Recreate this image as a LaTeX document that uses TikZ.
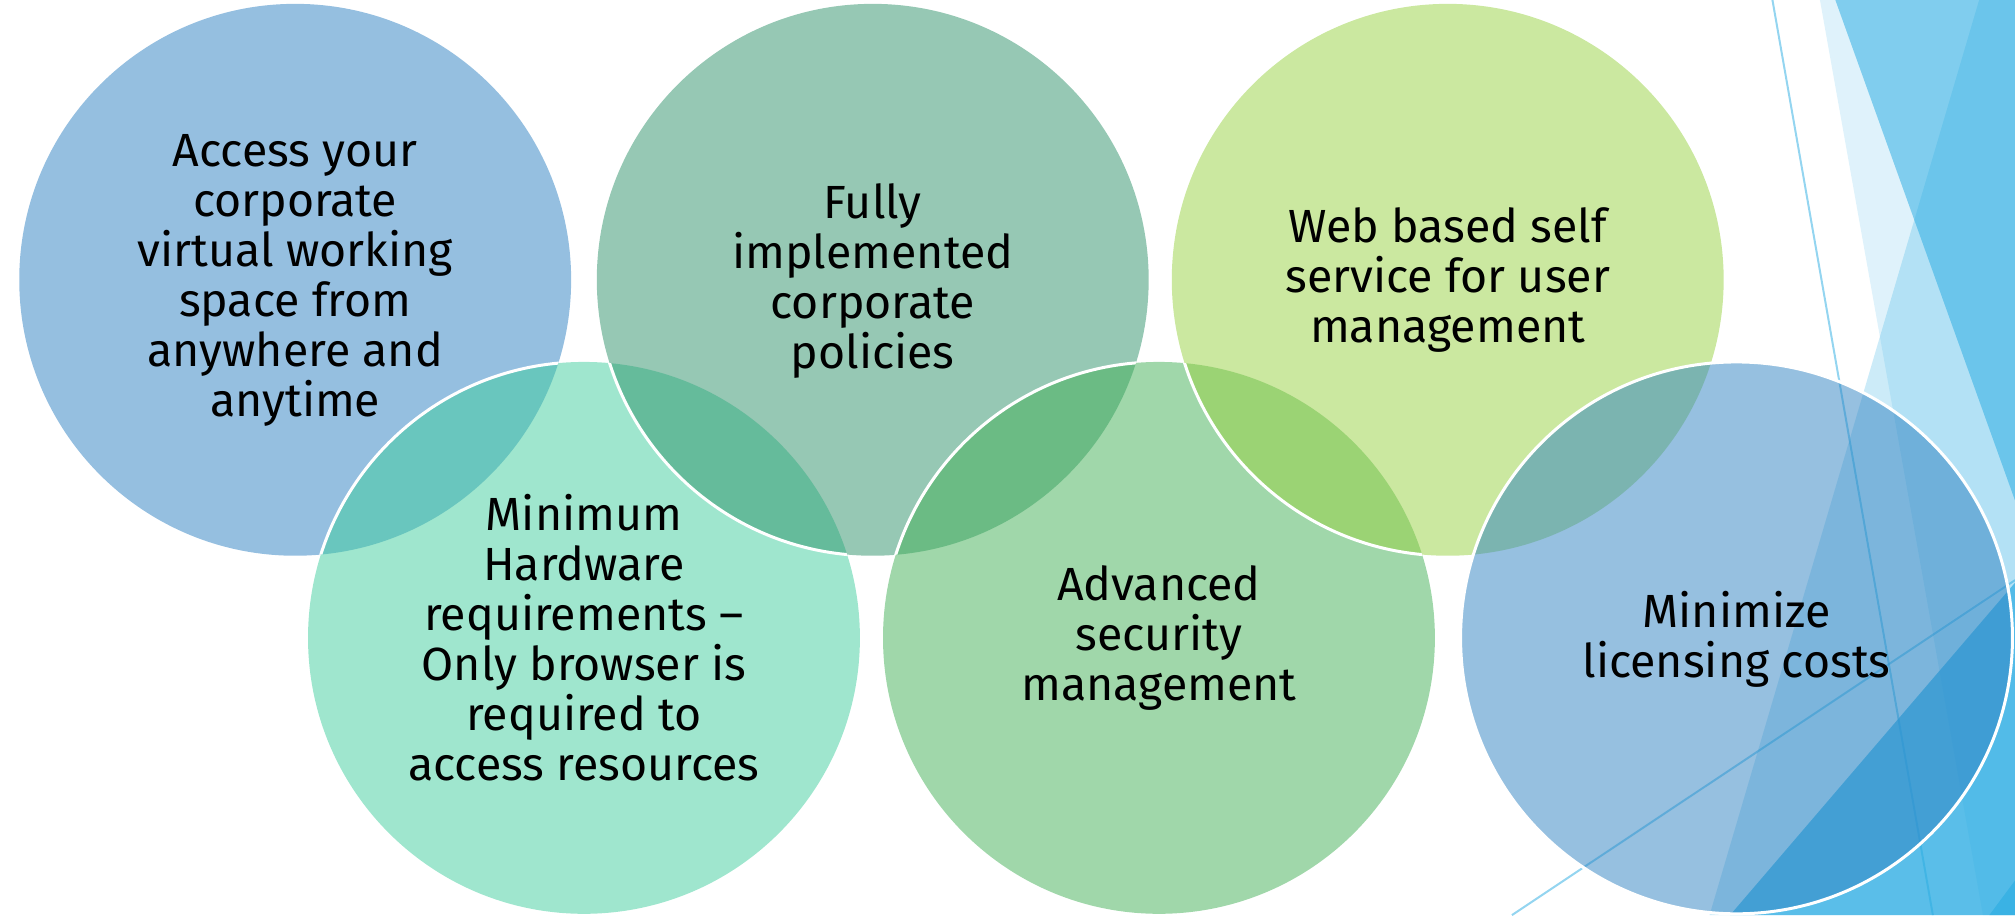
\documentclass[tikz,border=0pt]{standalone}
\usepackage{fontspec}
\setmainfont{Fira Sans}
\definecolor{cA}{HTML}{2B7FC1}
\definecolor{cB}{HTML}{2D9169}
\definecolor{cC}{HTML}{97D141}
\definecolor{cD}{HTML}{3FCD9D}
\definecolor{cE}{HTML}{41AF55}
\definecolor{cF}{HTML}{2D81C1}
\definecolor{facet}{HTML}{29ABE2}
\tikzset{
  bub/.style={fill opacity=0.5},
  rim/.style={draw=white, line width=3pt},
  lbl/.style={align=center, font=\fontsize{46.5}{50}\selectfont, text=black, inner sep=0pt},
  facetline/.style={draw=facet, draw opacity=0.5, line width=2pt}
}
\begin{document}
\begin{tikzpicture}[x=1.2834pt,y=-1.2834pt]
\useasboundingbox (0,0) rectangle (1570,713);
% background facets
\fill[facet, fill opacity=0.15] (1418,0) -- (1570,0) -- (1570,713) -- (1545,713) -- cycle;
\fill[facet, fill opacity=0.52] (1430,0) -- (1570,0) -- (1570,390) -- cycle;
\fill[facet, fill opacity=0.24] (1542,0) -- (1570,0) -- (1570,713) -- (1332,713) -- cycle;
\fill[facet, fill opacity=0.7] (1348,713) -- (1570,454) -- (1570,713) -- cycle;
\fill[facet, fill opacity=0.6] (1550,713) -- (1570,686) -- (1570,713) -- cycle;
\coordinate (l1a) at (1381,0);
\coordinate (l1b) at (1506,713);
\coordinate (l3a) at (1178,713);
\coordinate (l3b) at (1570,452);
\draw[facetline] (l1a) -- (l1b);
\draw[facetline] (l3a) -- (l3b);
% circle centres
\coordinate (c1) at (230,218);
\coordinate (c2) at (680,218);
\coordinate (c3) at (1128,218);
\coordinate (c4) at (455,497);
\coordinate (c5) at (903,497);
\coordinate (c6) at (1353,497);
% circles in stacking order 1,4,2,5,3,6
\fill[cA, bub] (c1) circle (215);
\fill[cD, bub] (c4) circle (215);
\begin{scope}\clip (c1) circle (215); \draw[rim] (c4) circle (215);\end{scope}
\fill[cB, bub] (c2) circle (215);
\begin{scope}\clip (c4) circle (215); \draw[rim] (c2) circle (215);\end{scope}
\fill[cE, bub] (c5) circle (215);
\begin{scope}\clip (c2) circle (215); \draw[rim] (c5) circle (215);\end{scope}
\fill[cC, bub] (c3) circle (215);
\begin{scope}\clip (c5) circle (215); \draw[rim] (c3) circle (215);\end{scope}
\fill[cF, bub] (c6) circle (215);
\draw[rim] (c6) circle (215);
% labels
\node[lbl] (t1) at ([yshift=-1]c1) {Access your\\corporate\\virtual working\\space from\\anywhere and\\anytime};
\node[lbl] (t2) at ([yshift=-1]c2) {Fully\\implemented\\corporate\\policies};
\node[lbl] (t3) at (c3) {Web based self\\service for user\\management};
\node[lbl] (t4) at (c4) {Minimum\\Hardware\\requirements –\\Only browser is\\required to\\access resources};
\node[lbl] (t5) at (c5) {Advanced\\security\\management};
\node[lbl] (t6) at ([yshift=-1]c6) {Minimize\\licensing costs};
\end{tikzpicture}
\end{document}
